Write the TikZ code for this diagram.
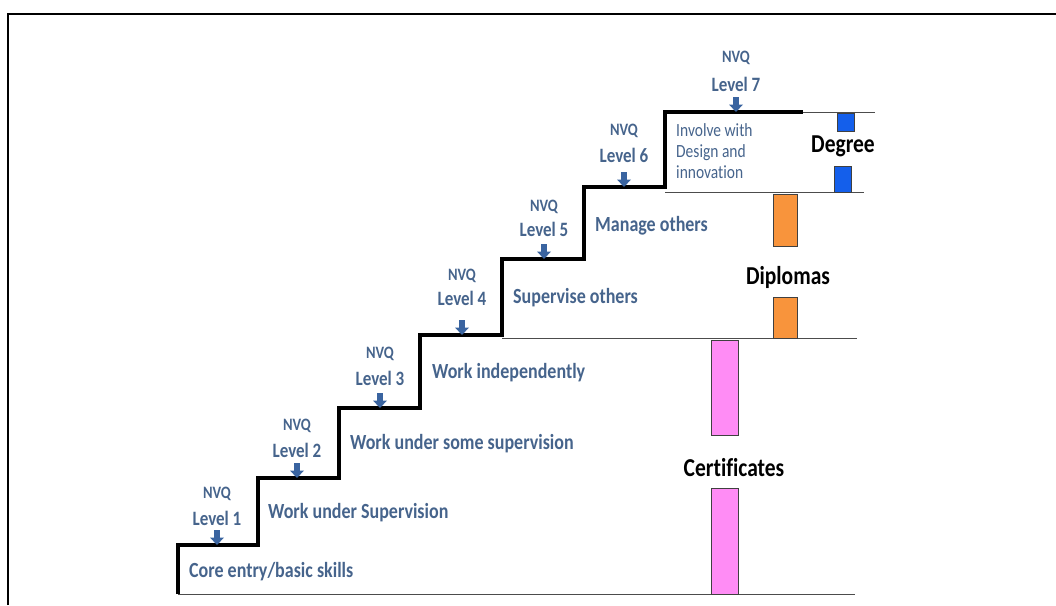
\documentclass[tikz,border=0pt]{standalone}
\usepackage{fontspec}
\setmainfont{Carlito}[Ligatures=NoCommon]
\definecolor{txtblue}{RGB}{70,100,140}
\definecolor{arrblue}{RGB}{58,100,160}
\definecolor{degblue}{RGB}{20,95,235}
\definecolor{diporange}{RGB}{248,148,60}
\definecolor{certpink}{RGB}{255,140,245}
\newcommand{\talltext}[1]{\scalebox{1}[1.2]{#1}}
\begin{document}
\begin{tikzpicture}[x=1pt,y=-1pt,
  stair/.style={line width=3.2pt,line join=miter},
  base/.style={line width=1pt,draw=black!70},
  bar/.style={draw=black!75,line width=0.9pt},
  steptext/.style={text=txtblue,font=\bfseries\fontsize{18}{20}\selectfont,anchor=west,inner sep=0pt},
  nvq/.style={text=txtblue,font=\bfseries\fontsize{14.5}{16}\selectfont,inner sep=0pt},
  lvl/.style={text=txtblue,font=\bfseries\fontsize{17}{19}\selectfont,inner sep=0pt},
  qual/.style={text=black,font=\bfseries\fontsize{21.5}{24}\selectfont,inner sep=0pt},
  pics/darrow/.style={code={\fill[arrblue] (-2.8,-15) -- (2.8,-15) -- (2.8,-7.5) -- (7,-7.5) -- (0,0) -- (-7,-7.5) -- (-2.8,-7.5) -- cycle;}}
]
\useasboundingbox (0,0) rectangle (1056,605);
% frame
\draw[line width=2.6pt] (8,605) -- (8,14) -- (1056,14);

% stair corners
\coordinate (s0) at (178,594);
\coordinate (s1) at (178,545);
\coordinate (s2) at (258,545);
\coordinate (s3) at (258,478);
\coordinate (s4) at (339,478);
\coordinate (s5) at (339,408);
\coordinate (s6) at (420,408);
\coordinate (s7) at (420,335);
\coordinate (s8) at (502,335);
\coordinate (s9) at (502,259);
\coordinate (s10) at (584,259);
\coordinate (s11) at (584,187);
\coordinate (s12) at (665,187);
\coordinate (s13) at (665,112);
\coordinate (s14) at (803,112);

% thin base lines
\coordinate (b0e) at (855,594);
\coordinate (b1s) at (502,338);
\coordinate (b1e) at (857,338);
\coordinate (b2s) at (665,192);
\coordinate (b2e) at (864,192);
\coordinate (b3e) at (875,112);
\draw[base] (s0) -- (b0e);
\draw[base] (b1s) -- (b1e);
\draw[base] (b2s) -- (b2e);
\draw[base] (s14) -- (b3e);

\draw[stair] (s0) -- (s1) -- (s2) -- (s3) -- (s4) -- (s5) -- (s6) -- (s7) -- (s8) -- (s9) -- (s10) -- (s11) -- (s12) -- (s13) -- (s14);

% bars
\draw[bar,fill=degblue] (837,113) rectangle (854,131);
\draw[bar,fill=degblue] (834,166) rectangle (851,192);
\draw[bar,fill=diporange] (773,194) rectangle (797,246);
\draw[bar,fill=diporange] (773,297) rectangle (797,338);
\draw[bar,fill=certpink] (711,340) rectangle (738,435);
\draw[bar,fill=certpink] (711,488) rectangle (738,594);

% qualification labels
\node[qual] (deg) at (843,146) {\talltext{Degree}};
\node[qual] (dip) at (788,277) {\talltext{Diplomas}};
\node[qual] (cert) at (734,468) {\talltext{Certificates}};

% step texts
\node[steptext] (t1) at (189,572) {\talltext{Core entry/basic skills}};
\node[steptext] (t2) at (268,513) {\talltext{Work under Supervision}};
\node[steptext] (t3) at (350,444) {\talltext{Work under some supervision}};
\node[steptext] (t4) at (432,373) {\talltext{Work independently}};
\node[steptext] (t5) at (513,298) {\talltext{Supervise others}};
\node[steptext] (t6) at (595,226) {\talltext{Manage others}};
\node[text=txtblue,font=\fontsize{15.5}{21}\selectfont,anchor=west,inner sep=0pt] (t7) at (676,152) {\talltext{\begin{tabular}{@{}l@{}}Involve with\\[-3.5pt]Design and\\[-3.5pt]innovation\end{tabular}}};

% NVQ levels
\foreach \n/\x/\ya/\yb/\yc in {1/217/494/518/545, 2/297/426/450/478, 3/380/354/378/408, 4/462/276/298/335, 5/544/207/229/259, 6/624/131/155/187, 7/736/58/84/112}{
  \node[nvq] (nvq\n) at (\x,\ya) {\talltext{NVQ}};
  \node[lvl] (lvl\n) at (\x,\yb) {\talltext{Level \n}};
  \pic at (\x,\yc) {darrow};
}
\end{tikzpicture}
\end{document}
